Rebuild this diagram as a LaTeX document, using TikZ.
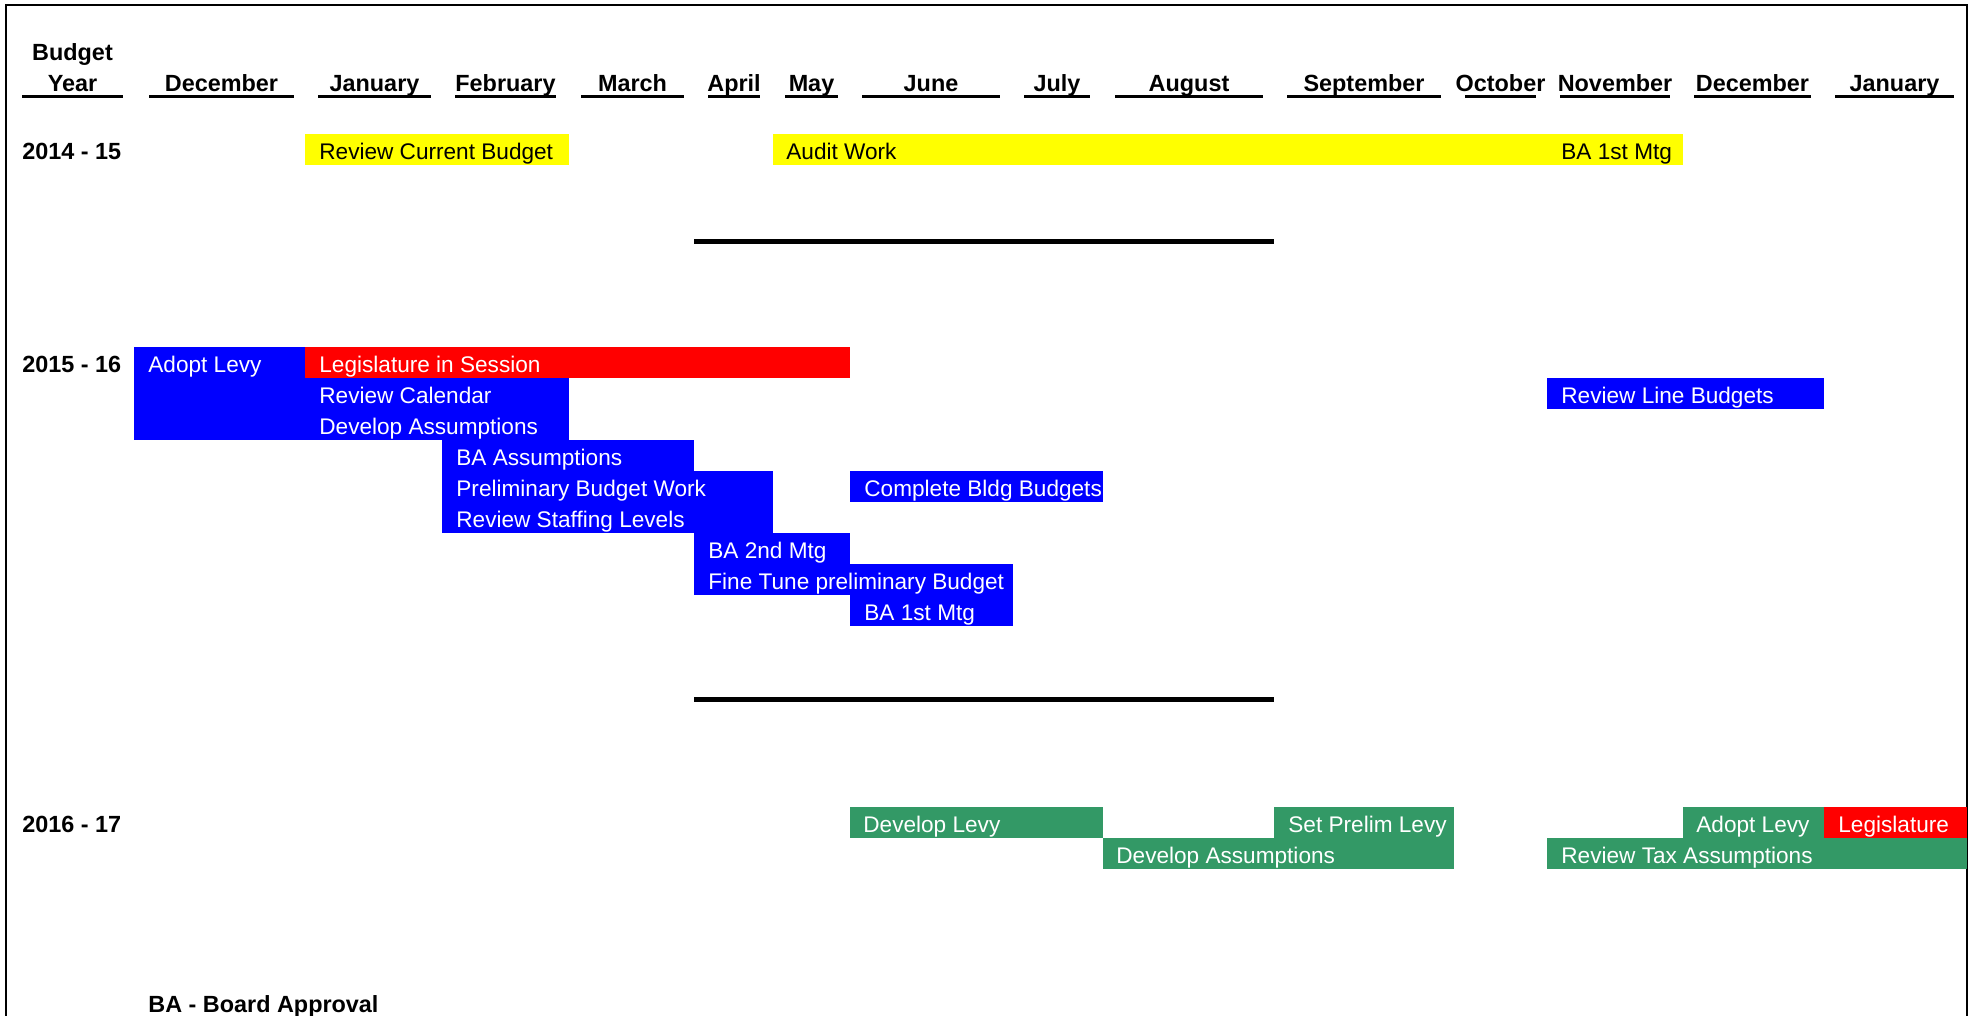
\documentclass[tikz,border=0pt]{standalone}
\usepackage{fontspec}
\setmainfont{Liberation Sans}
\definecolor{bblue}{RGB}{0,0,255}
\definecolor{bred}{RGB}{255,0,0}
\definecolor{byellow}{RGB}{255,255,0}
\definecolor{bgreen}{RGB}{51,153,102}
\begin{document}
\begin{tikzpicture}[x=0.5pt,y=-0.5pt,
  bartxt/.style={anchor=base west,inner sep=0pt,yshift=-1pt,font=\fontsize{11.3}{13}\selectfont,text=white},
  ytxt/.style={bartxt,text=black},
  hdr/.style={anchor=base,inner sep=0pt,yshift=-1pt,font=\fontsize{11.7}{14}\selectfont\bfseries},
  lbl/.style={anchor=base west,inner sep=0pt,yshift=-1pt,font=\fontsize{11.7}{14}\selectfont\bfseries},
  uline/.style={line width=1.5pt},
  sepline/.style={line width=2.5pt},
  frameline/.style={line width=1.2pt}]
\useasboundingbox (0,0) rectangle (1975,1016);
% frame
\coordinate (fbl) at (6,1030);
\coordinate (ftl) at (6,5);
\coordinate (ftr) at (1967,5);
\coordinate (fbr) at (1967,1030);
\draw[frameline] (fbl) -- (ftl) -- (ftr) -- (fbr);
% header
\node[hdr] (hBudget) at (72.5,59) {Budget};
\node[hdr] (hYear) at (72.5,90) {Year};
\coordinate (u0a) at (22,96.5);
\coordinate (u0b) at (123,96.5);
\draw[uline] (u0a) -- (u0b);
\foreach \a/\b/\m [count=\i] in {149/294/December,318/431/January,455/556/February,581/684/March,708/760/April,785/838/May,862/1000/June,1024/1090/July,1115/1263/August,1287/1441/September,1465/1536/October,1560/1670/November,1694/1811/December,1835/1954/January}{
  \coordinate (ua\i) at (\a,96.5);
  \coordinate (ub\i) at (\b,96.5);
  \draw[uline] (ua\i) -- (ub\i);
  \node[hdr] (m\i) at ({(\a+\b)/2},90) {\m};
}
% year labels
\node[lbl] (y1) at (22,157.5) {2014 - 15};
\node[lbl] (y2) at (22,370.5) {2015 - 16};
\node[lbl] (y3) at (22,830.5) {2016 - 17};
% 2014-15
\fill[byellow] (305,134) rectangle (569,165);
\fill[byellow] (773,134) rectangle (1683,165);
\node[ytxt] (t1) at (319,157.5) {Review Current Budget};
\node[ytxt] (t2) at (786,157.5) {Audit Work};
\node[ytxt] (t3) at (1561,157.5) {BA 1st Mtg};
% separators
\coordinate (s1a) at (694,242);
\coordinate (s1b) at (1274,242);
\coordinate (s2a) at (694,699);
\coordinate (s2b) at (1274,699);
\draw[sepline] (s1a) -- (s1b);
\draw[sepline] (s2a) -- (s2b);
% 2015-16
\fill[bblue] (134,347) rectangle (305,440);
\fill[bred] (305,347) rectangle (850,378);
\fill[bblue] (305,378) rectangle (569,440);
\fill[bblue] (442,440) rectangle (694,471);
\fill[bblue] (442,471) rectangle (773,533);
\fill[bblue] (850,471) rectangle (1103,502);
\fill[bblue] (694,533) rectangle (850,564);
\fill[bblue] (694,564) rectangle (1013,595);
\fill[bblue] (850,595) rectangle (1013,626);
\fill[bblue] (1547,378) rectangle (1824,409);
\node[bartxt] (b1) at (148,370.5) {Adopt Levy};
\node[bartxt] (b2) at (319,370.5) {Legislature in Session};
\node[bartxt] (b3) at (319,401.5) {Review Calendar};
\node[bartxt] (b4) at (319,432.5) {Develop Assumptions};
\node[bartxt] (b5) at (456,463.5) {BA Assumptions};
\node[bartxt] (b6) at (456,494.5) {Preliminary Budget Work};
\node[bartxt] (b7) at (456,525.5) {Review Staffing Levels};
\node[bartxt] (b8) at (864,494.5) {Complete Bldg Budgets};
\node[bartxt] (b9) at (708,556.5) {BA 2nd Mtg};
\node[bartxt] (b10) at (708,587.5) {Fine Tune preliminary Budget};
\node[bartxt] (b11) at (864,618.5) {BA 1st Mtg};
\node[bartxt] (b12) at (1561,401.5) {Review Line Budgets};
% 2016-17
\fill[bgreen] (850,807) rectangle (1103,838);
\fill[bgreen] (1103,838) rectangle (1454,869);
\fill[bgreen] (1274,807) rectangle (1454,838);
\fill[bgreen] (1683,807) rectangle (1824,838);
\fill[bred] (1824,807) rectangle (1967,838);
\fill[bgreen] (1547,838) rectangle (1967,869);
\node[bartxt] (g1) at (863,830.5) {Develop Levy};
\node[bartxt] (g2) at (1116,861.5) {Develop Assumptions};
\node[bartxt] (g3) at (1288,830.5) {Set Prelim Levy};
\node[bartxt] (g4) at (1696,830.5) {Adopt Levy};
\node[bartxt] (g5) at (1838,830.5) {Legislature};
\node[bartxt] (g6) at (1561,861.5) {Review Tax Assumptions};
% footer
\node[lbl] (foot) at (148,1010) {BA - Board Approval};
\end{tikzpicture}
\end{document}
